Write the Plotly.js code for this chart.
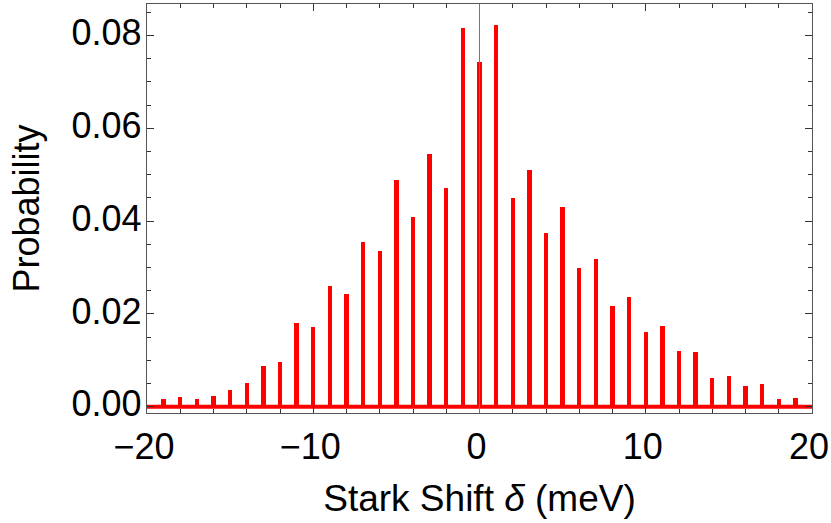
<!DOCTYPE html>
<html>
<head>
<meta charset="utf-8">
<script src="https://cdn.plot.ly/plotly-3.0.1.min.js"></script>
<style>html,body{margin:0;padding:0;background:#fff;}#chart{width:831px;height:523px;}</style>
</head>
<body>
<div id="chart"></div>
<script>
// Stark shift (meV) positions
const shifts = [-19,-18,-17,-16,-15,-14,-13,-12,-11,-10,-9,-8,-7,-6,-5,-4,-3,-2,-1,0,1,2,3,4,5,6,7,8,9,10,11,12,13,14,15,16,17,18,19];
// Probability values
const probability = [0.0016,0.0020,0.0017,0.0023,0.0037,0.0050,0.0087,0.0096,0.0180,0.0172,0.0260,0.0242,0.0355,0.0336,0.0489,0.0408,0.0545,0.0472,0.0817,0.0743,0.0822,0.0450,0.0510,0.0374,0.0431,0.0299,0.0319,0.0217,0.0237,0.0161,0.0175,0.0119,0.0117,0.0061,0.0066,0.0045,0.0048,0.0017,0.0019];
// baseline drawn along the axis
const baselineX = [-20, 20];
const baselineY = [0, 0];
const xTicks = [-20, -10, 0, 10, 20];
const yTicks = [0, 0.02, 0.04, 0.06, 0.08];

const fontFam = 'Liberation Sans, Arial, Helvetica, sans-serif';

const traces = [
  {
    type: 'scatter', mode: 'lines', x: baselineX, y: baselineY,
    line: {color: '#ff0000', width: 4}, hoverinfo: 'skip', showlegend: false
  },
  {
    type: 'bar', x: shifts, y: probability, width: 0.27,
    marker: {color: '#ff0000', line: {width: 0}}, showlegend: false
  }
];

const axisCommon = {
  showgrid: false, zeroline: false, showline: true, linecolor: '#555', linewidth: 1.2,
  mirror: 'ticks', ticks: 'inside', ticklen: 7, tickwidth: 1, tickcolor: '#333',
  tickfont: {family: fontFam, size: 36, color: '#000'}
};

const layout = {
  width: 831, height: 523,
  margin: {l: 147, r: 19, t: 4, b: 110},
  paper_bgcolor: '#fff', plot_bgcolor: '#fff',
  bargap: 0,
  xaxis: Object.assign({}, axisCommon, {
    range: [-20, 20], tickvals: xTicks,
    minor: {dtick: 2, tick0: 0, ticklen: 4, ticks: 'inside', tickcolor: '#333', tickwidth: 1},
    ticklabelstandoff: 2, ticklabelshift: -3, ticklabeloverflow: 'allow',
    title: {text: 'Stark Shift <i>δ</i> (meV)', font: {family: fontFam, size: 37, color: '#000'}, standoff: 18}
  }),
  yaxis: Object.assign({}, axisCommon, {
    range: [-0.00136, 0.0868], tickvals: yTicks, tickformat: '.2f',
    minor: {dtick: 0.005, tick0: 0, ticklen: 4, ticks: 'inside', tickcolor: '#333', tickwidth: 1},
    ticklabelstandoff: -3, ticklabelshift: -3,
    title: {text: 'Probability', font: {family: fontFam, size: 36, color: '#000'}, standoff: 21}
  }),
  shapes: [
    {type: 'line', xref: 'x', yref: 'paper', x0: 0, x1: 0, y0: 0, y1: 1,
     line: {color: '#777', width: 1}, layer: 'above'}
  ]
};

Plotly.newPlot('chart', traces, layout, {displayModeBar: false, staticPlot: true});
</script>
</body>
</html>
